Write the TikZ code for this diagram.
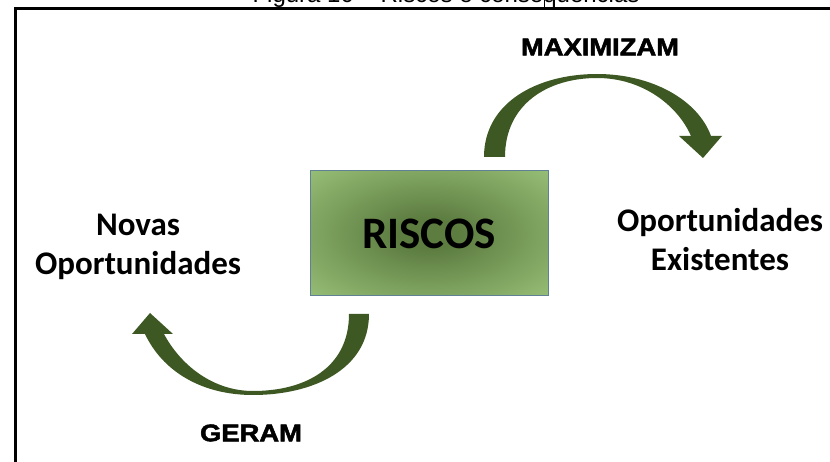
\documentclass[tikz,border=0pt]{standalone}
\usepackage{fontspec}
\setmainfont{Carlito}
\newfontfamily\blackfont[FakeStretch=1.14,BoldFeatures={FakeBold=2.2}]{Liberation Sans}
\newfontfamily\captionfont{Liberation Sans}
\usetikzlibrary{positioning}
\definecolor{riscdark}{RGB}{92,124,64}
\definecolor{risclight}{RGB}{163,204,130}
\definecolor{arrowgreen}{RGB}{61,88,34}
\definecolor{boxedge}{RGB}{96,128,150}
\pgfdeclareradialshading{riscglow}{\pgfpoint{0bp}{0bp}}{color(0bp)=(riscdark); color(6bp)=(riscdark); color(42bp)=(risclight); color(50bp)=(risclight)}

\begin{document}
\begin{tikzpicture} [x=1pt, y=-1pt,
    riskbox/.style={draw=boxedge, line width=1pt, shading=riscglow, minimum width=238pt, minimum height=125pt, font=\fontsize{45}{45}\selectfont\bfseries},
    outcome/.style={align=center, font=\fontsize{33}{39}\selectfont\bfseries},
    verb/.style={font=\blackfont\bfseries\fontsize{24}{24}\selectfont},
    curvedarrow/.style={fill=arrowgreen} ]
    \useasboundingbox (0,0) rectangle (830,462);
    \clip (0,0) rectangle (830,462);
    \draw[line width=3pt] (15,470) -- (15,9) -- (840,9);
    \node[anchor=base, font=\captionfont\fontsize{24}{24}\selectfont] (caption) at (446,3) {Figura 10 – Riscos e consequências};
    \coordinate (mark) at (544,0);
    \draw[line width=0.8pt] (mark) -- +(0,9);

    \node[riskbox] (risk) at (429,233.5) {RISCOS};
    \node[outcome] (novas) at (138,247) {Novas\\Oportunidades};
    \node[outcome] (exist) at (720,240) {Oportunidades\\Existentes};
    \node[verb] (maxi) at (600,47) {MAXIMIZAM};
    \node[verb] (geram) at (251,433) {GERAM};

    %TODO: soften the light rim of the arrows
    \fill[curvedarrow] (484,157) .. controls (484,102) and (538,74) .. (597,74)
      .. controls (652,74) and (698,100) .. (711,136) -- (722,136) -- (703,158) -- (679,136) -- (691,136)
      .. controls (678,106) and (643,78) .. (597,78)
      .. controls (548,78) and (505,104) .. (505,157) -- cycle;
    \fill[curvedarrow] (369,314) .. controls (369,370) and (312,395) .. (253,395)
      .. controls (200,395) and (162,370) .. (145,334) -- (132,334) -- (150,313) -- (173,334) -- (164,334)
      .. controls (180,364) and (212,391) .. (253,391)
      .. controls (305,391) and (349,368) .. (349,314) -- cycle;
\end{tikzpicture}
\end{document}
